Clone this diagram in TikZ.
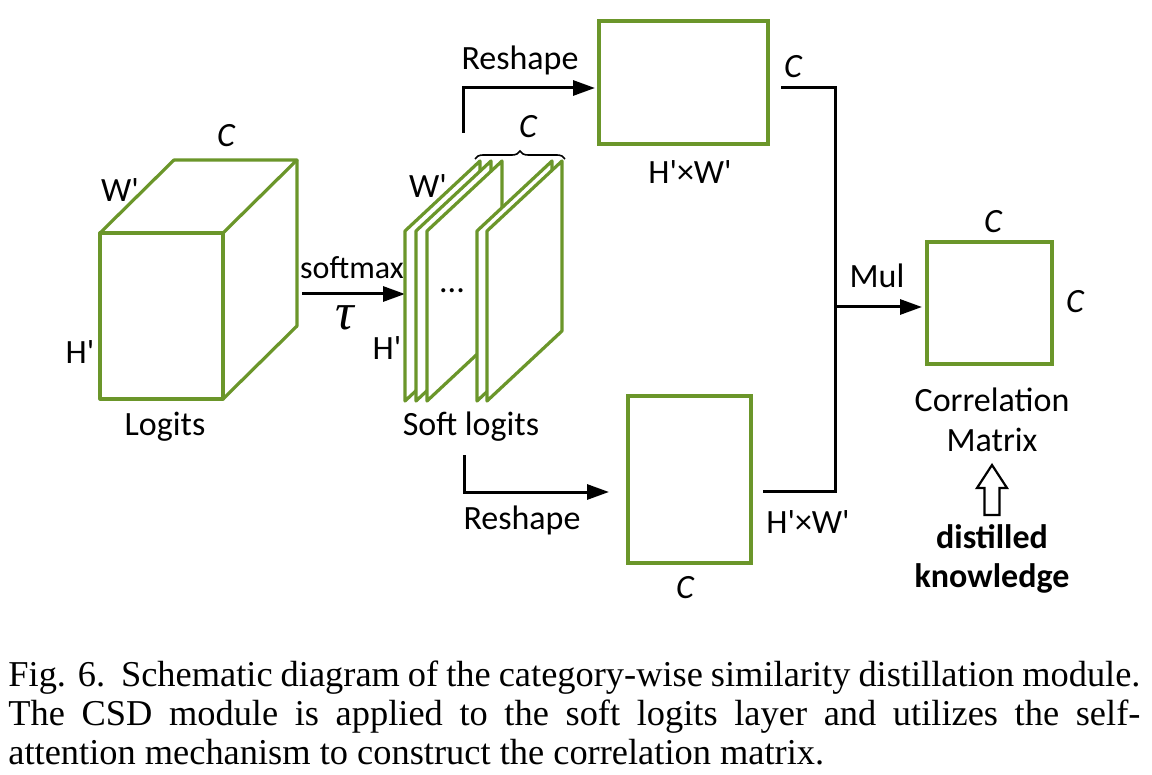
\documentclass[tikz,border=0pt]{standalone}
\usepackage{fontspec}
\setmainfont{Carlito}
\newfontfamily\capfont{Liberation Serif}
\usetikzlibrary{arrows.meta,decorations.pathreplacing}
\definecolor{boxgreen}{RGB}{107,150,42}
\newcommand{\pr}{\textquotesingle}
\begin{document}
\begin{tikzpicture}[x=0.5pt,y=-0.5pt,
  gbox/.style={draw=boxgreen,line width=1.6pt,line join=round},
  gnode/.style={draw=boxgreen,line width=1.6pt,inner sep=0pt,outer sep=0pt},
  conn/.style={draw=black,line width=1.5pt},
  arr/.style={conn,-{Triangle[length=11pt,width=7.5pt]}},
  lbl/.style={inner sep=0pt,font=\fontsize{17}{20}\selectfont},
  ilbl/.style={inner sep=0pt,font=\fontsize{17}{20}\selectfont\itshape},
  bl/.style={inner sep=0pt,font=\fontsize{17}{20}\selectfont\bfseries},
  captxt/.style={inner sep=0pt,anchor=base west,font=\capfont\fontsize{18.2}{20}\selectfont}]
\useasboundingbox[fill=white] (0,0) rectangle (1152,775);

% Logits cube
\draw[gbox] (100,233) rectangle (223,399);
\draw[gbox] (100,233) -- (174,160) -- (297,160) -- (223,233);
\draw[gbox] (297,160) -- (297,326) -- (223,399);
\node[ilbl] (cC1) at (226,136) {C};
\node[lbl] (cW1) at (120,190) {W\pr};
\node[lbl] (cH1) at (80,352) {H\pr};
\node[lbl] (logits) at (165,427) {Logits};

% softmax arrow
\coordinate (cubeR) at (302,294);
\coordinate (softL) at (405,294);
\draw[arr] (cubeR) -- (softL);
\node[lbl,font=\fontsize{16}{18}\selectfont] (softmax) at (352,268) {softmax};
\node[inner sep=0pt,font=\capfont\itshape\fontsize{26}{28}\selectfont] (tau) at (345,318) {τ};

% soft logits planes
\foreach \x in {405,416,427,477,487}
  \draw[gbox,fill=white] (\x,401) -- (\x,231) -- (\x+75,161) -- (\x+75,331) -- cycle;
\node[lbl] (dots) at (452,291) {...};
\node[lbl] (sW) at (428,186) {W\pr};
\node[lbl] (sH) at (387,348) {H\pr};
\node[lbl] (softlogits) at (471,427) {Soft logits};
\coordinate (brA) at (475,159);
\coordinate (brB) at (565,159);
\draw[line width=0.8pt,decorate,decoration={brace,amplitude=4pt}] (brA) -- (brB);
\node[ilbl] (cBr) at (528,127) {C};

% top box
\node[gnode,minimum width=84.5pt,minimum height=61.5pt] (top) at (683.5,82.5) {};
\node[lbl] (reshape1) at (520,60) {Reshape};
\node[lbl] (topHW) at (690,172) {H\pr{}×W\pr};
\node[ilbl] (topC) at (793,67) {C};
\coordinate (up0) at (463,133);
\coordinate (up1) at (463,88);
\draw[arr,shorten >=2pt] (up0) -- (up1) -- (top.west |- up1);

% bottom box
\node[gnode,minimum width=61.5pt,minimum height=83.5pt] (bot) at (689.5,479.5) {};
\node[lbl] (reshape2) at (522,520) {Reshape};
\node[ilbl] (botC) at (685,588) {C};
\node[lbl] (botHW) at (808,522) {H\pr{}×W\pr};
\coordinate (lo0) at (464,455);
\coordinate (lo1) at (464,492);
\draw[arr,shorten >=9.5pt] (lo0) -- (lo1) -- (bot.west |- lo1);

% merging lines
\coordinate (tOut) at (781,88);
\coordinate (bOut) at (763,491);
\coordinate (jT) at (835,88);
\coordinate (jB) at (835,491);
\coordinate (jM) at (835,307);
\draw[conn,line join=miter] (tOut) -- (jT) -- (jB) -- (bOut);

% correlation matrix
\node[gnode,minimum width=62.5pt,minimum height=61pt] (corr) at (989.5,303) {};
\draw[arr,shorten >=2.5pt] (jM) -- (corr.west |- jM);
\node[lbl] (mul) at (877,276) {Mul};
\node[ilbl] (corrC1) at (993,222) {C};
\node[ilbl] (corrC2) at (1075,302) {C};
\node[lbl] (corrl) at (992,400) {Correlation};
\node[lbl] (matrix) at (992,440) {Matrix};

% hollow arrow
\draw[line width=1.1pt,line join=miter] (992,465) -- (1007,488) -- (999.5,488) -- (999.5,515) -- (984.5,515) -- (984.5,488) -- (977,488) -- cycle;
\node[bl] (dist) at (992,537) {distilled};
\node[bl] (know) at (992,578) {knowledge};

% caption
\node[captxt] (cap1) at (8,686) {\makebox[566pt][s]{Fig. 6.\ \ Schematic diagram of the category-wise similarity distillation module.}};
\node[captxt] (cap2) at (8,725) {\makebox[566pt][s]{The CSD module is applied to the soft logits layer and utilizes the self-}};
\node[captxt] (cap3) at (8,764) {attention mechanism to construct the correlation matrix.};
\end{tikzpicture}
\end{document}
